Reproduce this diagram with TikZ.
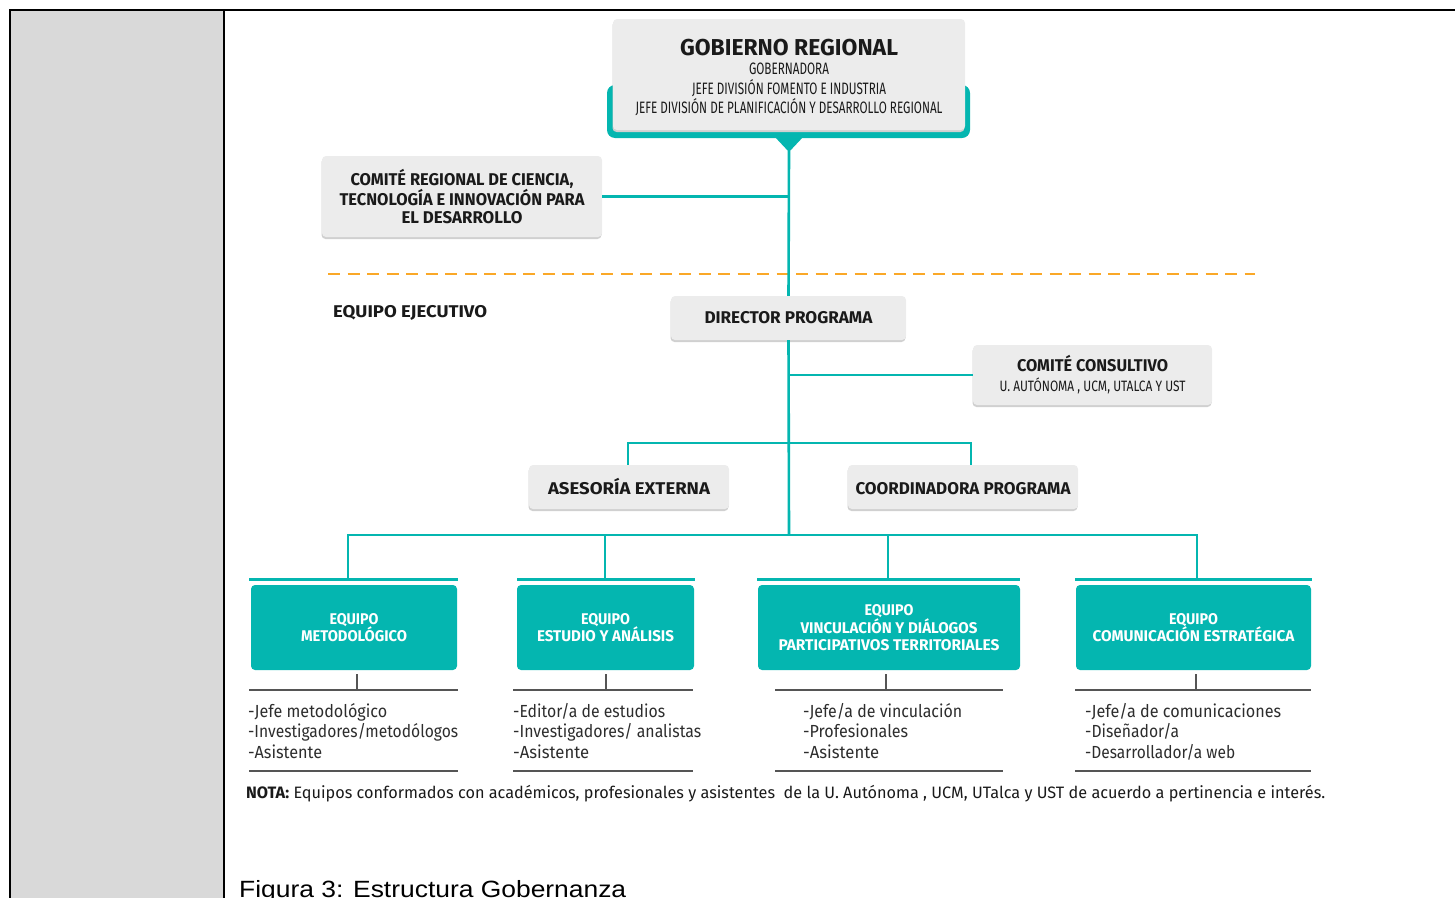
\documentclass[tikz,border=0pt]{standalone}
\usepackage{fontspec}
\setmainfont{Fira Sans}
\newfontfamily\capfont{Liberation Sans}
\usepackage{graphicx}
% stretch one line of text to a given width (in pt), keeping its height
\newcommand\fitw[2]{\resizebox{#1pt}{\height}{#2}}
\definecolor{brandteal}{RGB}{4,182,176}
\definecolor{boxgray}{RGB}{236,236,236}
\definecolor{shade}{RGB}{208,208,208}
\definecolor{cellgray}{RGB}{217,217,217}
\definecolor{dashorange}{RGB}{250,168,40}
\definecolor{ink}{RGB}{26,26,26}
\definecolor{ink2}{RGB}{45,45,45}
\definecolor{rulegray}{RGB}{85,85,85}
\begin{document}
\begin{tikzpicture}[x=1pt,y=-1pt,
  gbox/.style={fill=boxgray, rounded corners=4pt, inner sep=0pt, align=center, text=ink,
    preaction={fill=shade, transform canvas={yshift=-2pt, xshift=-0.5pt}}},
  tbox/.style={fill=brandteal, rounded corners=4pt, inner sep=0pt, align=center, text=white,
    minimum height=85pt, font=\bfseries\fontsize{15.5}{17.5}\selectfont},
  link/.style={draw=brandteal, line width=2.6pt},
  bar/.style={draw=brandteal, line width=3pt},
  rulel/.style={draw=rulegray, line width=1.5pt},
  listtxt/.style={anchor=north west, inner sep=0pt, align=left, text=ink2,
    font=\fontsize{17.5}{20.5}\selectfont},
  head/.style={font=\bfseries\fontsize{17}{18.5}\selectfont}
]
\useasboundingbox (0,0) rectangle (1455,897);

% table frame and grey side cell
\fill[cellgray] (10,10) rectangle (224,898);
\draw[black, line width=2pt] (10,899) -- (10,10) -- (1456,10);
\draw[black, line width=2pt] (224,10) -- (224,899);

% teal base with pointer under the top box
\fill[brandteal, rounded corners=8pt] (607,85) rectangle (970,138);
\fill[brandteal] (774,136) -- (804,136) -- (789,152) -- cycle;
\coordinate (tip) at (789,151);

% top box
\node[gbox, minimum width=352pt, minimum height=111pt, font=\fontsize{16.5}{19.5}\selectfont] (gob) at (789,74.5)
  {\rule{0pt}{22pt}{\fontsize{23}{23}\bfseries\fitw{218}{GOBIERNO REGIONAL}}\\
   \fitw{80}{GOBERNADORA}\\
   \fitw{194}{JEFE DIVISIÓN FOMENTO E INDUSTRIA}\\
   \fitw{307}{JEFE DIVISIÓN DE PLANIFICACIÓN Y DESARROLLO REGIONAL}};

% regional committee
\node[gbox, head, minimum width=280pt, minimum height=81pt] (crc) at (462,196.5)
  {\fitw{223}{COMITÉ REGIONAL DE CIENCIA,}\\
   \fitw{245}{TECNOLOGÍA E INNOVACIÓN PARA}\\
   \fitw{121}{EL DESARROLLO}};

% separator
\draw[dashorange, line width=2.8pt, dash pattern=on 12pt off 7.5pt] (328,274) -- (1255,274);

\node[head, anchor=west, inner sep=0pt, text=ink] (eje) at (333,313) {\fitw{154}{EQUIPO EJECUTIVO}};

\node[gbox, head, minimum width=235pt, minimum height=44pt] (dir) at (788.5,318)
  {\fitw{168}{DIRECTOR PROGRAMA}};

\node[gbox, minimum width=239pt, minimum height=60pt, font=\fontsize{15}{20}\selectfont] (cc) at (1092.5,375)
  {{\bfseries\fontsize{17}{17}\selectfont\fitw{151}{COMITÉ CONSULTIVO}}\\
   \fitw{186}{U. AUTÓNOMA , UCM, UTALCA Y UST}};

\node[gbox, head, minimum width=200pt, minimum height=44pt] (ase) at (629,487)
  {\fitw{162}{ASESORÍA EXTERNA}};
\node[gbox, head, minimum width=230pt, minimum height=44pt] (coo) at (963,487)
  {\fitw{215}{\vphantom{Í}COORDINADORA PROGRAMA}};

% team boxes
\node[tbox, minimum width=206pt] (t1) at (354,627.5)
  {\fitw{49}{EQUIPO}\\ \fitw{106}{METODOLÓGICO}};
\node[tbox, minimum width=177pt] (t2) at (605.5,627.5)
  {\fitw{49}{EQUIPO}\\ \fitw{137}{ESTUDIO Y ANÁLISIS}};
\node[tbox, minimum width=262pt, font=\bfseries\fontsize{15.5}{17}\selectfont] (t3) at (889,627.5)
  {\fitw{49}{EQUIPO}\\ \fitw{177}{VINCULACIÓN Y DIÁLOGOS}\\ \fitw{221}{PARTICIPATIVOS TERRITORIALES}};
\node[tbox, minimum width=235pt] (t4) at (1193.5,627.5)
  {\fitw{49}{EQUIPO}\\ \fitw{202}{COMUNICACIÓN ESTRATÉGICA}};

% connectors
\coordinate (bus) at (789,535);
\coordinate (s1) at (628,443);
\coordinate (s2) at (971,443);
\coordinate (d1) at (348,579);
\coordinate (d2) at (605,579);
\coordinate (d3) at (888,579);
\coordinate (d4) at (1197,579);
\draw[link] (tip) -- (dir.north);
\draw[link] (crc.east) -- (crc.east -| tip);
\draw[link] (dir.south) -- (bus);
\draw[link] (cc.west -| tip) -- (cc.west);
\draw[link] (s1 |- ase.north) -- (s1) -- (s2) -- (s2 |- coo.north);
\draw[link] (d1) -- (d1 |- bus) -- (d4 |- bus) -- (d4);
\draw[link] (d2) -- (d2 |- bus);
\draw[link] (d3) -- (d3 |- bus);

% teal bars over the team boxes
\draw[bar] (249,579) -- (458,579);
\draw[bar] (517,579) -- (695,579);
\draw[bar] (757,579) -- (1020,579);
\draw[bar] (1075,579) -- (1312,579);

% member lists
\draw[rulel] (357,674) -- (357,690);  \draw[rulel] (249,690) -- (458,690);  \draw[rulel] (249,771) -- (458,771);
\draw[rulel] (606,674) -- (606,690);  \draw[rulel] (513,690) -- (693,690);  \draw[rulel] (513,771) -- (693,771);
\draw[rulel] (886,674) -- (886,690);  \draw[rulel] (775,690) -- (1003,690); \draw[rulel] (775,771) -- (1003,771);
\draw[rulel] (1196,674) -- (1196,690); \draw[rulel] (1075,690) -- (1311,690); \draw[rulel] (1075,771) -- (1311,771);

\node[listtxt] (l1) at (248,703)
  {\fitw{139}{-Jefe metodológico}\\ \fitw{210}{-Investigadores/metodólogos}\\ \fitw{74}{-Asistente}};
\node[listtxt] (l2) at (513,703)
  {\fitw{152}{-Editor/a de estudios}\\ \fitw{188}{-Investigadores/ analistas}\\ \fitw{76}{-Asistente}};
\node[listtxt] (l3) at (803,703)
  {\fitw{159}{-Jefe/a de vinculación}\\ \fitw{105}{-Profesionales}\\ \fitw{76}{-Asistente}};
\node[listtxt] (l4) at (1085,703)
  {\fitw{196}{-Jefe/a de comunicaciones}\\ \fitw{94}{-Diseñador/a}\\ \fitw{150}{-Desarrollador/a web}};

\node[anchor=west, inner sep=0pt, text=ink, font=\fontsize{16.5}{18}\selectfont] (nota) at (246,794)
  {\fitw{1079}{\textbf{NOTA:} Equipos conformados con académicos, profesionales y asistentes \ de la U. Autónoma , UCM, UTalca y UST de acuerdo a pertinencia e interés.}};

\node[anchor=base west, inner sep=0pt, text=black, font=\capfont\fontsize{23.5}{26}\selectfont] (cap) at (239,897)
  {\fitw{387}{Figura 3: Estructura Gobernanza}};
\end{tikzpicture}
\end{document}
